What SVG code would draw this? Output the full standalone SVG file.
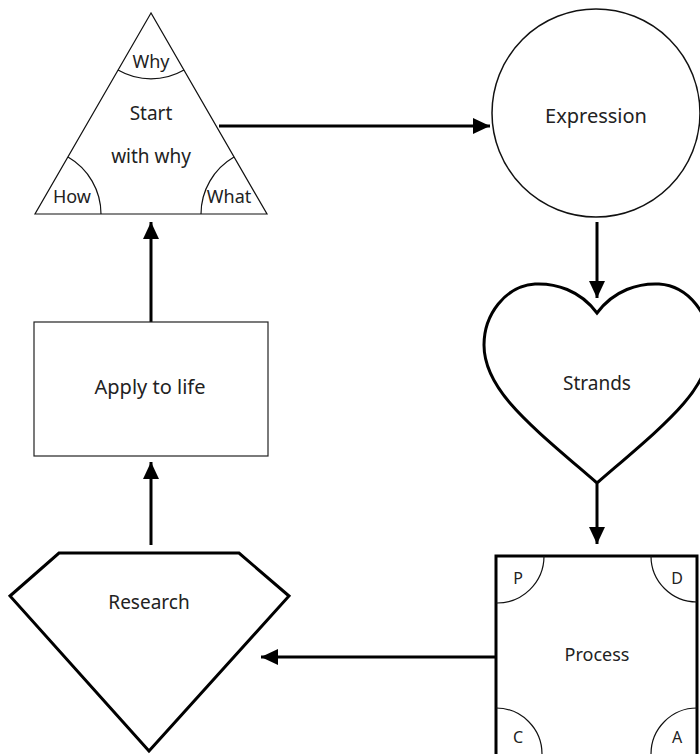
<svg xmlns="http://www.w3.org/2000/svg" width="700" height="754" viewBox="0 0 700 754">
<style>
text{font-family:"Noto Sans","Open Sans",sans-serif;fill:#222;text-anchor:middle}
.t{font-size:19px}
.s{font-size:18px}
.c{font-size:16px}
.thin{fill:none;stroke:#111;stroke-width:1.2}
.thick{fill:#fff;stroke:#000;stroke-width:3}
.conn{stroke:#000;stroke-width:3;fill:none}
</style>
<defs>
<marker id="ah" markerUnits="userSpaceOnUse" markerWidth="18" markerHeight="18" refX="17" refY="8" orient="auto" viewBox="0 0 18 16">
<path d="M0,0 L17,8 L0,16 z" fill="#000"/>
</marker>
</defs>
<rect width="700" height="754" fill="#fff"/>
<g id="connectors">
<line class="conn" x1="219" y1="126" x2="490" y2="126" marker-end="url(#ah)"/>
<line class="conn" x1="597" y1="222" x2="597" y2="298" marker-end="url(#ah)"/>
<line class="conn" x1="597" y1="484" x2="597" y2="544" marker-end="url(#ah)"/>
<line class="conn" x1="496" y1="657" x2="261" y2="657" marker-end="url(#ah)"/>
<line class="conn" x1="151" y1="545" x2="151" y2="462" marker-end="url(#ah)"/>
<line class="conn" x1="151" y1="322" x2="151" y2="222" marker-end="url(#ah)"/>
</g>
<g id="start">
<polygon points="151,13 35,214 267,214" fill="#fff" stroke="#111" stroke-width="1.2"/>
<path class="thin" d="M118,70 A66,66 0 0 0 184,70"/>
<path class="thin" d="M68,157 A66,66 0 0 1 101,214"/>
<path class="thin" d="M234,157 A66,66 0 0 0 201,214"/>
<text class="s" x="151" y="68">Why</text>
<text class="t" x="151" y="120">Start</text>
<text class="t" x="151" y="163">with why</text>
<text class="s" x="72" y="203">How</text>
<text class="s" x="229" y="203">What</text>
</g>
<g id="expression">
<circle cx="596" cy="113" r="104" fill="#fff" stroke="#111" stroke-width="1.5"/>
<text class="t" x="596" y="123" style="font-size:20px">Expression</text>
</g>
<g id="strands">
<path class="thick" d="M597,313 C580,290 555,283 535,284 C505,286 484,315 484,345 C484,390 530,425 597,483 C664,425 710,390 710,345 C710,315 689,286 659,284 C639,283 614,290 597,313 Z"/>
<text class="t" x="597" y="390">Strands</text>
</g>
<g id="process">
<rect class="thick" x="496" y="556" width="201" height="210"/>
<path class="thin" d="M544,556 A47,47 0 0 1 496,603"/>
<path class="thin" d="M651,556 A46,46 0 0 0 697,602"/>
<path class="thin" d="M496,708 A46,46 0 0 1 542,754"/>
<path class="thin" d="M697,708 A46,46 0 0 0 651,754"/>
<text class="c" x="518" y="584">P</text>
<text class="c" x="677" y="584">D</text>
<text class="c" x="518" y="743">C</text>
<text class="c" x="677" y="743">A</text>
<text class="t" x="597" y="661" style="font-size:18px">Process</text>
</g>
<g id="research">
<polygon class="thick" points="59,553 239,553 289,596 149,751 10,596" stroke-width="2.5"/>
<text class="t" x="149" y="609">Research</text>
</g>
<g id="apply">
<rect x="34" y="322" width="234" height="134" fill="#fff" stroke="#222" stroke-width="1.2"/>
<text class="t" x="150" y="394" style="font-size:20px">Apply to life</text>
</g>
</svg>
